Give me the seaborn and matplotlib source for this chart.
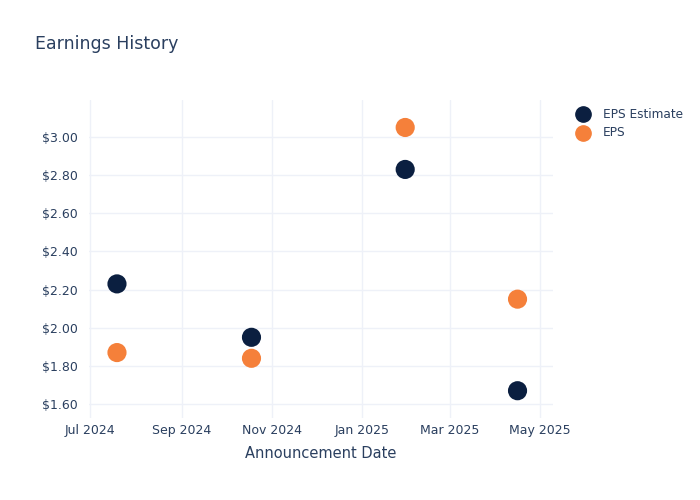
import matplotlib
matplotlib.use("Agg")
import matplotlib.pyplot as plt
import matplotlib.dates as mdates
import matplotlib.ticker as mticker
import seaborn as sns
import pandas as pd

# --- data ---
dates = ["2024-07-19", "2024-10-18", "2025-01-30", "2025-04-16"]
eps_estimate = [2.23, 1.95, 2.83, 1.67]
eps_actual = [1.87, 1.84, 3.05, 2.15]

df = pd.DataFrame({
    "date": pd.to_datetime(dates * 2),
    "value": eps_estimate + eps_actual,
    "series": ["EPS Estimate"] * len(dates) + ["EPS"] * len(dates),
})

text_color = "#2a3f5f"
grid_color = "#eef1f8"
palette = {"EPS Estimate": "#0b1f40", "EPS": "#f5803a"}

sns.set_style("white")
plt.rcParams["font.family"] = ["DejaVu Sans"]

fig = plt.figure(figsize=(7, 5), dpi=100)
ax = fig.add_axes([0.127, 0.164, 0.663, 0.636])

sns.scatterplot(data=df, x="date", y="value", hue="series", palette=palette,
                s=190, edgecolor="none", ax=ax, zorder=3, legend=False)

ax.set_xlim(pd.Timestamp("2024-06-30"), pd.Timestamp("2025-05-10"))
ax.set_ylim(1.527, 3.194)

ax.xaxis.set_major_locator(mdates.MonthLocator(bymonth=[1, 3, 5, 7, 9, 11]))
ax.xaxis.set_major_formatter(mdates.DateFormatter("%b %Y"))
ax.yaxis.set_major_locator(mticker.MultipleLocator(0.2))
ax.yaxis.set_major_formatter(mticker.FuncFormatter(lambda v, p: f"${v:.2f}"))

ax.grid(True, color=grid_color, linewidth=1)
ax.set_axisbelow(True)
for sp in ax.spines.values():
    sp.set_visible(False)
ax.tick_params(axis="both", length=0, labelsize=9, colors=text_color)
ax.tick_params(axis="y", pad=8)
ax.tick_params(axis="x", pad=4)

ax.set_xlabel("Announcement Date", fontsize=10.5, color=text_color, labelpad=7)
ax.set_ylabel("")

fig.text(0.05, 0.912, "Earnings History", fontsize=12.5, color=text_color, va="center")

# legend
for i, name in enumerate(["EPS Estimate", "EPS"]):
    ypos = 1 - (114 + 19 * i) / 500
    fig.lines.append(plt.Line2D([583 / 700], [ypos], transform=fig.transFigure,
                                marker="o", markersize=11, color=palette[name],
                                linestyle="none"))
    fig.text(603 / 700, ypos, name, fontsize=8.7, color=text_color, va="center")

fig.savefig("out.png", dpi=100)
